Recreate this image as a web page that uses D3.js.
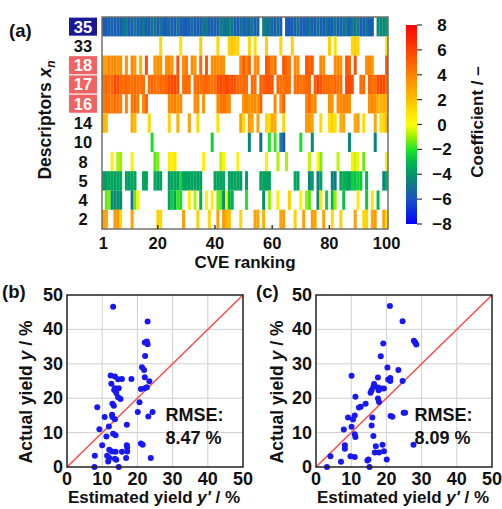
<!DOCTYPE html>
<html><head><meta charset="utf-8">
<script src="https://cdn.jsdelivr.net/npm/d3@7"></script>
<style>
body{margin:0;background:#fff;}
text{font-family:"Liberation Sans",Arial,sans-serif;font-weight:bold;fill:#111;}
</style></head>
<body>
<svg id="chart" width="502" height="509"></svg>
<script>
// ---------- DATA ----------
const rowLabels = ["35","33","18","17","16","14","10","8","5","4","2"];
const highlightBlue = ["35"];
const highlightRed = ["18","17","16"];
const cveTicks = [1,20,40,60,80,100];
const cbTicks = [8,6,4,2,0,-2,-4,-6,-8];
// coefficient per CVE rank (1..100); 0 = descriptor not selected
const d35 = [-5.7,-5.7,-5.6,-5.5,-5.7,-5.6,-5.6,-5.0,-4.8,-5.6,
 -5.6,-4.9,-5.6,-5.5,-4.8,-5.6,-5.7,-4.9,-5.0,-5.6,
 -4.8,-5.6,-5.7,-5.2,-5.6,-5.7,-5.0,-5.7,-5.6,-5.8,
 -5.6,-5.2,-5.7,-5.6,-5.5,-5.0,-4.8,-5.6,-5.7,-5.4,
 -5.6,-4.7,-4.9,-5.0,-4.6,-4.8,-5.6,-5.7,-5.0,-5.6,
 -4.8,-5.6,-4.8,-5.7,-5.5,0,-4.7,-4.9,-5.0,-5.3,
 -5.6,-5.2,-5.5,0,-5.6,-5.8,-5.7,-5.5,-4.9,-5.7,
 -5.7,-5.6,-4.9,-5.6,-5.7,-5.1,-5.5,-5.7,-4.8,-5.6,
 -5.6,-4.9,-5.6,-5.5,-5.2,-4.8,-5.6,-4.9,-5.0,-4.7,
 -5.6,-5.7,-4.8,-5.6,-5.7,0,-4.4,-4.3,-4.3,-4.2];
const d33 = [0,0,0,0,0,0,0,0,0,0,
 0,0,0,0,0,0,0,0,0,0,
 1.2,0,0,0,0,0,0,1.0,0,0,
 0,0,0,0,1.5,0,0,0,0,0,
 1.3,0,0,0,1.6,1.8,1.5,1.4,0,0,
 0,1.2,0,1.0,0,0,0,1.4,0,0,
 0,0,1.2,0,0,0,1.5,0,0,0,
 0,0,0,0,0,0,0,0,0,1.5,
 0,1.0,0,0,0,0,0,1.2,1.6,1.4,
 0,0,0,0,0,0,0,0,0,1.0];
const d18 = [3.2,3.0,3.8,3.6,3.8,3.4,3.6,0,3.5,0,
 3.8,3.2,0,2.5,0,5.5,0,0,3.5,3.6,
 3.4,0,3.6,3.8,3.4,0,5.6,0,3.8,4.2,
 0,3.7,3.4,0,4.8,0,5.4,0,3.6,3.8,
 3.5,3.7,3.6,0,0,0,0,0,3.8,5.2,
 3.8,5.0,0,3.6,3.8,0,0,5.3,5.0,3.8,
 4.6,0,0,5.5,4.8,4.5,0,3.8,3.6,0,
 0,5.4,5.0,5.3,0,0,3.8,3.6,0,0,
 0,3.6,3.8,3.4,0,5.4,5.0,0,5.5,0,
 0,0,3.6,3.8,3.2,0,0,0,0,5.5];
const d17 = [4.5,4.8,4.6,4.9,5.8,5.6,4.8,4.6,5.0,4.7,
 4.5,4.8,4.6,4.4,4.7,0,4.6,4.9,4.7,4.5,
 4.8,4.6,5.0,5.6,5.8,5.9,5.5,0,4.6,4.8,
 4.5,0,4.7,4.9,4.6,4.8,5.0,4.7,4.4,4.6,
 5.6,5.8,5.5,5.9,5.6,5.7,5.4,4.8,4.6,4.9,
 4.7,0,4.8,4.6,0,5.0,5.2,5.4,5.6,5.3,
 0,4.8,4.6,4.5,4.9,4.7,0,4.6,4.8,4.5,
 4.7,4.9,5.0,0,5.2,6.0,5.4,4.8,4.6,4.7,
 4.5,4.9,4.7,4.6,0,5.8,5.9,5.6,0,0,
 4.6,4.8,0,4.9,4.7,4.6,5.7,5.9,5.8,4.6];
const d16 = [4.2,4.5,4.6,4.3,4.8,4.4,4.2,0,3.8,0,
 4.4,4.6,4.2,0,3.8,5.0,0,0,0,0,
 0,0,0,3.8,4.0,4.2,3.6,3.8,0,0,
 0,0,3.6,3.8,0,3.5,0,0,0,0,
 3.8,4.4,4.6,4.0,3.8,0,0,0,0,3.6,
 3.8,3.4,3.6,3.8,3.5,5.2,0,0,0,0,
 3.8,0,3.6,5.2,0,0,0,0,0,0,
 0,3.8,4.8,3.6,3.8,0,0,0,0,3.6,
 3.2,0,3.6,3.8,4.0,3.8,3.6,0,0,0,
 0,0,0,3.5,3.8,3.6,2.6,2.4,2.8,2.5];
const d14 = [2.5,2.0,0,0,0,0,0,0,0,0,
 2.8,2.2,0,0,0,0,1.2,0,0,0,
 0,0,0,1.5,0,0,2.5,0,0,0,
 3.0,0,0,1.2,0,0,0,0,0,0,
 1.0,0,0,0,0,0,0,0,3.0,1.2,
 0,3.2,2.8,0,3.0,0,0,1.2,1.0,3.0,
 2.6,0,0,1.2,0,0,0,0,0,0,
 0,3.2,3.4,2.8,0,0,1.2,0,0,1.0,
 1.4,1.0,0,2.6,3.0,0,0,0,2.8,3.2,
 0,1.2,0,0,0,2.8,0,1.0,1.2,2.6];
const d10 = [0,0,0,0,0,0,0,0,0,0,
 0,0,0,0,0,0,0,-2.2,0,0,
 0,0,0,0,0,0,0,0,0,0,
 0,0,0,0,0,0,0,0,-2.5,0,
 0,0,0,0,0,0,0,0,0,0,
 0,-4.4,0,0,0,-5.0,0,0,-2.0,0,
 -1.8,0,-4.2,-6.2,0,0,0,0,0,-2.2,
 0,0,0,-4.2,0,0,0,0,0,0,
 0,0,0,0,0,0,-4.3,0,0,0,
 0,0,0,0,0,-4.6,0,0,0,0];
const d8 = [0,0,0,0.5,0,-0.8,-1.0,0,0,0,
 0.6,0,0,0,0,0,0,0,-1.6,-1.2,
 0,0,0,0.6,0.4,0.8,0,0,0,0,
 0,0,0,0,0,0.5,0,0,0,0,
 0,-0.6,0.4,0,0,0,0,0.5,0,0,
 0,0,0,0,0,0,0,0.4,0,0,
 0,-0.8,0,0,-0.8,0,0,0,0,0,
 0,0,-0.6,0,0,0.3,-1.2,0,0,0,
 0,0,-0.6,0,0,0,0,0.4,-0.6,0.4,
 0,-1.4,0,0,0,0,0,0,0,0.6];
const d5 = [-3.6,-3.8,-3.5,-3.6,-3.7,-3.5,-3.4,0,-3.6,-3.8,
 -3.5,-3.6,0,0,-3.5,-3.6,0,0,-3.4,-3.7,
 -3.6,0,0,-3.8,-3.6,-3.5,-3.7,-2.4,-3.6,-3.5,
 -3.7,-3.6,-3.5,-3.8,-3.6,0,0,0,0,-3.5,
 -3.6,-3.7,-3.5,0,-3.6,-3.7,-3.5,-3.6,-3.8,0,
 -3.6,0,0,0,0,-3.5,-3.6,-3.7,-3.6,0,
 0,0,0,0,0,0,0,-3.4,-3.6,0,
 0,0,-4.4,-3.6,0,-4.5,-3.6,0,0,0,
 -4.5,-4.6,0,-3.4,-3.2,-3.5,-3.6,-2.6,-2.8,-2.4,
 -2.7,0,-3.0,0,0,0,0,0,-4.5,-3.5];
const d4 = [0,-1.5,-1.2,-4.2,-4.4,-4.0,-4.3,0,0,0,
 -5.0,-1.4,0.4,0,0,0,0,0,0,0,
 0,0,0,-3.6,-2.5,-3.5,-1.8,-2.2,0,0,
 0.6,0,-0.8,0,-3.2,0,0.5,0,0.6,0,
 -1.2,-1.6,-4.3,0.6,-3.0,-3.2,0,0,0,0,
 -2.0,0,0,0,0,0,-4.2,0,-1.0,0,
 0,0.6,0,0,0,1.5,0,0,0,0.5,
 0,-1.0,-1.6,0,0,-4.2,0.8,0,-2.5,0,
 -3.0,-1.0,0,0,-2.8,0,0,0,0,0.6,
 0,0,-2.6,0,0.8,0,-3.0,0,0,0];
const d2 = [3.0,2.8,0,0,3.2,3.4,1.2,0,0,0,
 3.0,0,0,0,0,0,0,0,0,1.5,
 1.2,0,0,0,0,0,0,0,3.2,0,
 0,0,0,1.4,0,0,0,1.2,0,0,
 3.0,0,3.2,2.4,2.0,0,0,0,1.2,0,
 0,0,0,3.0,2.8,0,2.5,0,0,0,
 0,0,3.0,3.2,0,0,0,1.4,0,0,
 3.0,0,0,3.2,2.8,0,0,3.0,0,0,
 1.2,0,0,1.4,0,0,0,0,3.0,0,
 0,1.2,1.4,0,2.8,3.2,0,0,3.0,1.0];
const rowsData = [d35,d33,d18,d17,d16,d14,d10,d8,d5,d4,d2];

// scatter (b)
const bEst = [13.1,22.9,22.7,22.1,22.9,22.2,21.3,21.9,22.1,23.4,22.1,21.0,22.7,20.6,20.1,24.3,23.1,21.0,21.5,23.8,
 12.4,13.6,14.5,15.6,18.3,12.6,13.6,14.7,13.4,14.0,14.5,15.2,12.9,13.3,8.6,12.8,12.9,10.7,13.6,11.9,
 17.0,9.2,13.1,13.8,11.2,10.0,17.0,17.1,12.0,12.8,13.8,15.6,17.1,7.9,11.4,12.0,13.6,14.0,16.8,11.7,7.8,14.7];
const bAct = [46.6,42.3,36.5,36.2,35.7,32.3,29.0,28.2,26.1,24.9,22.9,22.7,23.2,18.8,16.0,16.0,14.7,6.8,6.5,2.6,
 26.6,26.3,25.5,25.6,25.6,24.2,22.9,22.9,22.4,21.5,20.3,19.8,18.4,17.8,17.4,15.2,14.5,14.5,13.9,11.8,
 12.3,11.0,9.7,9.2,8.9,6.3,6.3,5.7,5.0,4.5,4.4,4.4,4.5,3.3,3.3,2.6,2.4,2.1,2.6,1.6,0,0];
// scatter (c)
const cEst = [21.0,24.6,27.8,28.2,28.5,19.1,18.4,20.3,23.4,17.6,10.1,21.1,20.5,21.1,24.6,16.5,16.3,15.8,15.5,17.6,
 18.6,19.3,17.8,11.2,17.6,17.9,12.7,12.2,14.1,24.9,25.3,21.2,21.7,9.1,11.0,10.5,16.0,15.8,10.1,7.9,
 11.0,11.2,16.3,27.7,18.9,17.0,8.2,8.2,16.7,17.9,19.3,4.1,9.8,11.0,14.9,14.6,20.1,7.1,3.1,15.2];
const cAct = [46.8,42.4,36.7,36.2,35.6,35.9,32.2,28.9,28.2,26.0,26.5,25.9,25.4,25.0,25.0,24.1,23.3,22.3,21.6,23.1,
 22.8,22.8,22.3,20.4,19.9,18.9,17.5,17.3,18.4,15.8,15.8,14.8,14.6,14.4,15.0,13.8,14.4,12.1,11.7,10.9,
 9.5,8.7,9.0,6.5,6.5,6.0,6.3,5.3,4.2,4.2,4.6,3.1,3.1,2.9,2.2,1.9,2.2,1.5,0,0];
const yieldTicks = [0,10,20,30,40,50];
const rmseB = "8.47 %", rmseC = "8.09 %";

// ---------- DRAW ----------
const svg = d3.select("#chart");
const color = d3.scaleLinear()
  .domain([-8,-6,-5,-4,-3,-2,-1,0,2,4,6,8])
  .range(["#0000ff","#1a52c8","#127290","#00966a","#00b84a","#1ee628","#9af000","#ffff00","#ffc000","#ff8200","#ff4200","#ff0000"])
  .clamp(true);

// heatmap
const hx = d3.scaleBand().domain(d3.range(1,101)).range([102,388]);
const hy = d3.scaleBand().domain(rowLabels).range([17,229]);
const hm = svg.append("g");
rowLabels.forEach((lab,ri)=>{
  const vals = rowsData[ri];
  hm.selectAll(null).data(vals.map((v,i)=>({c:i+1,v})).filter(d=>d.v!==0))
    .enter().append("rect")
    .attr("x",d=>hx(d.c)).attr("y",hy(lab))
    .attr("width",hx.bandwidth()+0.15).attr("height",hy.bandwidth()+0.1)
    .attr("fill",d=>color(d.v));
});
hm.append("rect").attr("x",102).attr("y",17).attr("width",286).attr("height",212)
  .attr("fill","none").attr("stroke","#707070").attr("stroke-width",1.5);
// inner ticks
[20,40,60,80].forEach(t=>{
  const x = hx(t)+hx.bandwidth()/2;
  hm.append("line").attr("x1",x).attr("x2",x).attr("y1",229).attr("y2",225).attr("stroke","#222").attr("stroke-width",1.3);
});
// x tick labels
hm.selectAll(null).data(cveTicks).enter().append("text")
  .attr("x",d=>hx(d)+hx.bandwidth()/2).attr("y",249).attr("text-anchor","middle")
  .attr("font-size",16.5).text(d=>d);
hm.append("text").attr("x",245).attr("y",268).attr("text-anchor","middle").attr("font-size",17).text("CVE ranking");

// row labels
rowLabels.forEach(lab=>{
  const y0 = hy(lab), h = hy.bandwidth();
  let bg = null;
  if (highlightBlue.includes(lab)) bg = "#1a1a96";
  if (highlightRed.includes(lab)) bg = "#f26262";
  if (bg) svg.append("rect").attr("x",69).attr("y",y0+0.6).attr("width",28).attr("height",h-1.2).attr("fill",bg);
  svg.append("text").attr("x",83).attr("y",y0+h/2+6).attr("text-anchor","middle").attr("font-size",16.5)
    .style("fill", bg ? "#fff" : "#111").text(lab);
});
// y title
const yt = svg.append("text").attr("transform","translate(51,120) rotate(-90)").attr("text-anchor","middle").attr("font-size",17.5);
yt.append("tspan").text("Descriptors ");
yt.append("tspan").attr("font-style","italic").text("x");
yt.append("tspan").attr("font-style","italic").attr("font-size",12).attr("dy",4).text("n");
svg.append("text").attr("x",9).attr("y",37).attr("font-size",18.5).text("(a)");

// colorbar
const cbY = d3.scaleLinear().domain([-8,8]).range([224,25]);
const defs = svg.append("defs");
const grad = defs.append("linearGradient").attr("id","cbg").attr("x1",0).attr("x2",0).attr("y1",1).attr("y2",0);
d3.range(-8,8.01,0.5).forEach(v=>{
  grad.append("stop").attr("offset",(v+8)/16).attr("stop-color",color(v));
});
svg.append("rect").attr("x",406).attr("y",25).attr("width",11).attr("height",199).attr("fill","url(#cbg)");
cbTicks.forEach(t=>{
  svg.append("line").attr("x1",417).attr("x2",422).attr("y1",cbY(t)).attr("y2",cbY(t)).attr("stroke","#333").attr("stroke-width",1.2);
  svg.append("text").attr("x",442).attr("y",cbY(t)+6).attr("text-anchor","middle").attr("font-size",17)
    .text(t<0 ? "\u2212"+(-t) : t);
});
svg.append("text").attr("transform","translate(483,122) rotate(-90)").attr("text-anchor","middle").attr("font-size",17).text("Coefficient / \u2013");

// scatter plots
function scatter(x0, est, act, label, rmse, labX, ytX){
  const sx = d3.scaleLinear().domain([0,50]).range([x0, x0+176]);
  const sy = d3.scaleLinear().domain([0,50]).range([467,295]);
  const g = svg.append("g");
  yieldTicks.slice(1,-1).forEach(t=>{
    g.append("line").attr("x1",sx(t)).attr("x2",sx(t)).attr("y1",295).attr("y2",467).attr("stroke","#d0d0d0").attr("stroke-width",1);
    g.append("line").attr("x1",x0).attr("x2",x0+176).attr("y1",sy(t)).attr("y2",sy(t)).attr("stroke","#d0d0d0").attr("stroke-width",1);
  });
  g.append("line").attr("x1",sx(0)).attr("y1",sy(0)).attr("x2",sx(50)).attr("y2",sy(50)).attr("stroke","#ff4a4a").attr("stroke-width",1.5);
  g.selectAll(null).data(est.map((e,i)=>[e,act[i]])).enter().append("circle")
    .attr("cx",d=>sx(d[0])).attr("cy",d=>sy(d[1])).attr("r",3).attr("fill","#1818f5");
  g.append("rect").attr("x",x0).attr("y",295).attr("width",176).attr("height",172).attr("fill","none").attr("stroke","#222").attr("stroke-width",1.5);
  g.selectAll(null).data(yieldTicks).enter().append("text").attr("x",x0-4).attr("y",d=>sy(d)+6)
    .attr("text-anchor","end").attr("font-size",18).text(d=>d);
  g.selectAll(null).data(yieldTicks).enter().append("text").attr("x",d=>sx(d)).attr("y",485)
    .attr("text-anchor","middle").attr("font-size",18).text(d=>d);
  const xt = g.append("text").attr("x",x0+87).attr("y",503).attr("text-anchor","middle").attr("font-size",17);
  xt.append("tspan").text("Estimated yield ");
  xt.append("tspan").attr("font-style","italic").text("y'");
  xt.append("tspan").text(" / %");
  const ytt = g.append("text").attr("transform",`translate(${ytX},392) rotate(-90)`).attr("text-anchor","middle").attr("font-size",17.5);
  ytt.append("tspan").text("Actual yield ");
  ytt.append("tspan").attr("font-style","italic").text("y");
  ytt.append("tspan").text(" / %");
  g.append("text").attr("x",labX).attr("y",298).attr("font-size",18.5).text(label);
  g.append("text").attr("x",sx(28)).attr("y",421).attr("font-size",18).text("RMSE:");
  g.append("text").attr("x",sx(28)).attr("y",444).attr("font-size",18).text(rmse);
}
scatter(67, bEst, bAct, "(b)", rmseB, 2, 32);
scatter(316, cEst, cAct, "(c)", rmseC, 256, 283);
</script>
</body></html>
